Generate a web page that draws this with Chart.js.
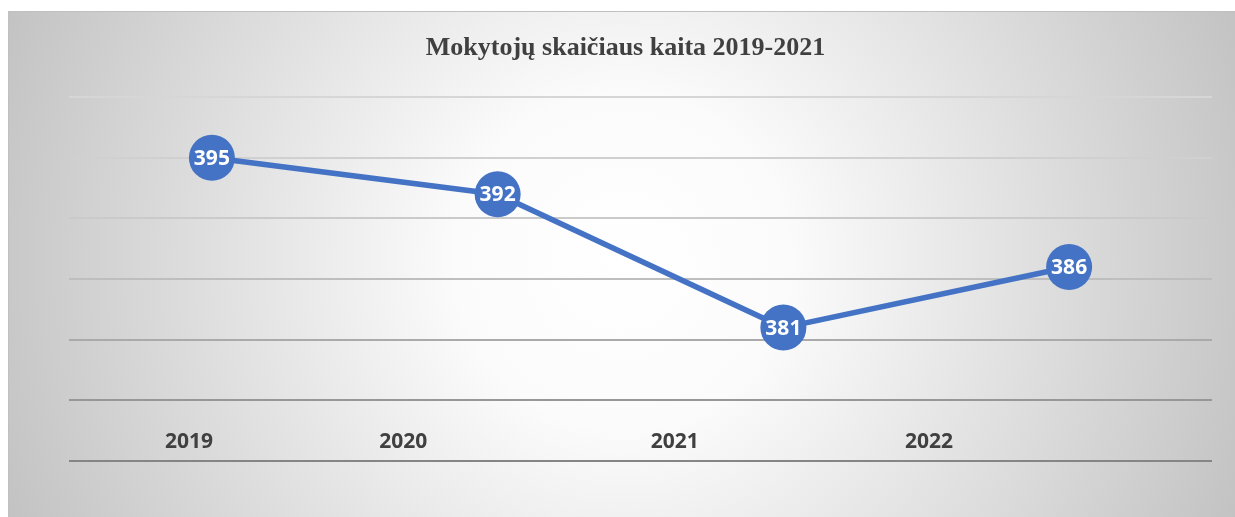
<!DOCTYPE html>
<html>
<head>
<meta charset="utf-8">
<script src="https://cdn.jsdelivr.net/npm/chart.js@4/dist/chart.umd.min.js"></script>
<style>
  html, body { margin: 0; padding: 0; background: #fff; }
  #wrap { position: relative; width: 1235px; height: 517px; }
</style>
</head>
<body>
<div id="wrap"><canvas id="teachers-chart"></canvas></div>
<script>
const years = ['2019', '2020', '2021', '2022'];
const teachers = [395, 392, 381, 386];
// where the year captions sit along the category axis (they are offset from the points in the original)
const yearSlots = [-0.08, 0.67, 1.62, 2.51];

const gridShade = { 400: '#d6d6d6', 395: '#d0d0d0', 390: '#cacaca', 385: '#bebebe', 380: '#aaaaaa', 375: '#979797', 370: '#858585' };

const backdrop = {
    id: 'backdrop',
    beforeDraw(chart) {
        const { ctx, width, height } = chart;
        ctx.save();
        ctx.fillStyle = '#ffffff';
        ctx.fillRect(0, 0, width, height);
        const g = ctx.createRadialGradient(622, 262, 0, 622, 262, 670);
        g.addColorStop(0, '#ffffff');
        g.addColorStop(0.25, '#fbfbfb');
        g.addColorStop(1, '#c2c2c2');
        ctx.fillStyle = g;
        ctx.fillRect(8, 11, width - 8, height - 11);
        ctx.strokeStyle = '#c0c0c0';
        ctx.lineWidth = 1;
        ctx.beginPath();
        ctx.moveTo(8.5, height);
        ctx.lineTo(8.5, 11.5);
        ctx.lineTo(width, 11.5);
        ctx.stroke();
        ctx.restore();
    }
};

const bubbleLabels = {
    id: 'bubbleLabels',
    afterDatasetsDraw(chart) {
        const { ctx } = chart;
        const meta = chart.getDatasetMeta(0);
        ctx.save();
        ctx.fillStyle = '#ffffff';
        ctx.font = 'bold 21px "Open Sans"';
        ctx.textAlign = 'center';
        ctx.textBaseline = 'middle';
        meta.data.forEach((pt, i) => {
            ctx.fillText(String(teachers[i]), pt.x, pt.y + 1);
        });
        ctx.restore();
    }
};

new Chart(document.getElementById('teachers-chart'), {
    type: 'line',
    data: {
        datasets: [
            {
                label: 'Mokytojų skaičius',
                data: teachers.map((v, i) => ({ x: i, y: v })),
                borderColor: '#4472C4',
                backgroundColor: '#4472C4',
                borderWidth: 5.5,
                pointRadius: 23,
                pointHoverRadius: 23,
                pointBorderWidth: 0,
                tension: 0,
                clip: false,
            },
        ],
    },
    options: {
        responsive: true,
        maintainAspectRatio: false,
        animation: false,
        layout: {
            padding: { left: 34, right: 18, top: 20, bottom: 56 },
        },
        scales: {
            x: {
                type: 'linear',
                min: -0.5,
                max: 3.5,
                grid: { display: false },
                border: { display: false },
                afterBuildTicks: (axis) => {
                    axis.ticks = yearSlots.map((v) => ({ value: v }));
                },
                afterFit: (axis) => {
                    axis.height = 0;
                },
                ticks: {
                    autoSkip: false,
                    maxRotation: 0,
                    mirror: true,
                    padding: 6,
                    color: '#404040',
                    font: { family: 'Open Sans', size: 21, weight: 'bold' },
                    callback: (value, index) => years[index],
                },
            },
            y: {
                min: 370,
                max: 400,
                ticks: { display: false, stepSize: 5 },
                border: { display: false },
                afterFit: (axis) => {
                    axis.width = 35;
                },
                grid: {
                    drawTicks: false,
                    lineWidth: 2,
                    color: (c) => gridShade[c.tick.value] || '#cccccc',
                },
            },
        },
        plugins: {
            legend: { display: false },
            tooltip: { enabled: false },
            title: {
                display: true,
                text: 'Mokytojų skaičiaus kaita 2019-2021',
                color: '#404040',
                font: { family: 'Liberation Serif', size: 26, weight: 'bold' },
                padding: { top: 13, bottom: 33 },
            },
        },
    },
    plugins: [backdrop, bubbleLabels],
});
</script>
</body>
</html>
